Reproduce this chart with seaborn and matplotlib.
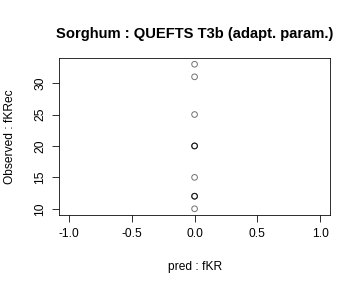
import matplotlib
matplotlib.use("Agg")
import matplotlib.pyplot as plt
import seaborn as sns
import pandas as pd

pred_fKR = [0, 0, 0, 0, 0, 0, 0, 0, 0, 0, 0]
observed_fKRec = [33, 31, 25, 20, 20, 20, 15, 12, 12, 12, 10]
x_ticks = [-1.0, -0.5, 0.0, 0.5, 1.0]
y_ticks = [10, 15, 20, 25, 30]

df = pd.DataFrame({"pred": pred_fKR, "obs": observed_fKRec})

sns.set_theme(style="white")
plt.rcParams['font.family'] = ['Liberation Sans', 'DejaVu Sans']
plt.rcParams['text.color'] = 'black'
plt.rcParams['axes.labelcolor'] = 'black'

fig = plt.figure(figsize=(5, 4), dpi=72)
ax = fig.add_axes([0.164, 0.255, 0.753, 0.542])
sns.scatterplot(data=df, x="pred", y="obs", ax=ax, marker="o", s=32,
                facecolor="none", edgecolor=(0, 0, 0, 0.55), linewidth=1.0)

ax.set_xlim(-1.08, 1.08)
ymin, ymax = min(observed_fKRec), max(observed_fKRec)
pad = (ymax - ymin) * 0.04
ax.set_ylim(ymin - pad, ymax + pad)
ax.set_xticks(x_ticks)
ax.set_xticklabels([f"{v:.1f}" for v in x_ticks])
ax.set_yticks(y_ticks)
ax.set_yticklabels([str(v) for v in y_ticks], rotation=90, va="center")
ax.tick_params(axis="both", direction="out", length=7, width=0.8, colors="black",
               labelsize=12, pad=6, left=True, bottom=True)
for s in ax.spines.values():
    s.set_color("black")
    s.set_linewidth(0.8)
ax.set_xlabel("pred : fKR", fontsize=12, labelpad=21)
ax.set_ylabel("Observed : fKRec", fontsize=12, labelpad=18)
ax.set_title("Sorghum : QUEFTS T3b (adapt. param.)", fontsize=14.8, fontweight="bold", pad=20)

fig.savefig("out.png", dpi=72)
